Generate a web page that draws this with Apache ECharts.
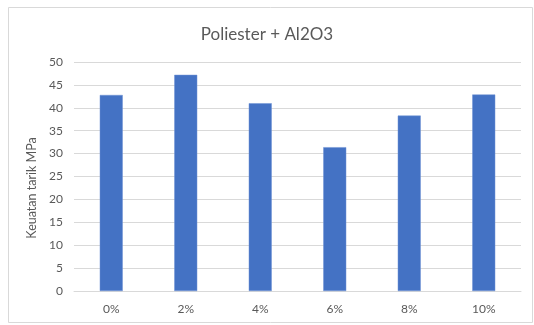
<!DOCTYPE html>
<html>
<head>
<meta charset="utf-8">
<script src="https://cdn.jsdelivr.net/npm/echarts@6/dist/echarts.min.js"></script>
<style>
  html, body { margin: 0; padding: 0; background: #fff; }
  #chart { width: 534px; height: 325px; }
</style>
</head>
<body>
<div id="chart"></div>
<script>
// Tensile strength of polyester filled with Al2O3 at different loadings
const chartTitle = 'Poliester + Al2O3';
const yAxisTitle = 'Keuatan tarik MPa';
const categories = ['0%', '2%', '4%', '6%', '8%', '10%'];
const strengthValues = [42.8, 47.2, 41.0, 31.4, 38.3, 42.9];
const yTicks = { min: 0, max: 50, interval: 5 };

const textColor = '#595959';
const fontFamily = 'Lato, "Open Sans", sans-serif';

const chart = echarts.init(document.getElementById('chart'), null, { renderer: 'canvas' });

chart.setOption({
  animation: false,
  backgroundColor: '#ffffff',
  title: {
    text: chartTitle,
    left: 'center',
    top: 21,
    textStyle: { color: textColor, fontFamily, fontSize: 17, fontWeight: 'normal' }
  },
  graphic: [
    {
      type: 'rect',
      shape: { x: 8.5, y: 7.5, width: 524, height: 315 },
      style: { fill: 'none', stroke: '#d9d9d9', lineWidth: 1 },
      silent: true
    },
    {
      type: 'text',
      x: 32,
      y: 188,
      rotation: Math.PI / 2,
      style: {
        text: yAxisTitle,
        fill: textColor,
        font: '12.5px ' + fontFamily,
        align: 'center',
        verticalAlign: 'middle'
      }
    }
  ],
  grid: { left: 74, right: 13, top: 62, bottom: 34, containLabel: false },
  xAxis: {
    type: 'category',
    data: categories,
    axisLine: { show: true, lineStyle: { color: '#d9d9d9', width: 1 } },
    axisTick: { show: false },
    axisLabel: { color: textColor, fontFamily, fontSize: 12, margin: 12 }
  },
  yAxis: {
    type: 'value',
    min: yTicks.min,
    max: yTicks.max,
    interval: yTicks.interval,
    axisLine: { show: false },
    axisTick: { show: false },
    splitLine: { lineStyle: { color: '#d9d9d9', width: 1 } },
    axisLabel: { color: textColor, fontFamily, fontSize: 12, margin: 11 }
  },
  series: [{
    type: 'bar',
    data: strengthValues,
    barWidth: 23,
    itemStyle: { color: '#4472c4', borderColor: '#6f93d4', borderWidth: 0.5 }
  }]
});
</script>
</body>
</html>
